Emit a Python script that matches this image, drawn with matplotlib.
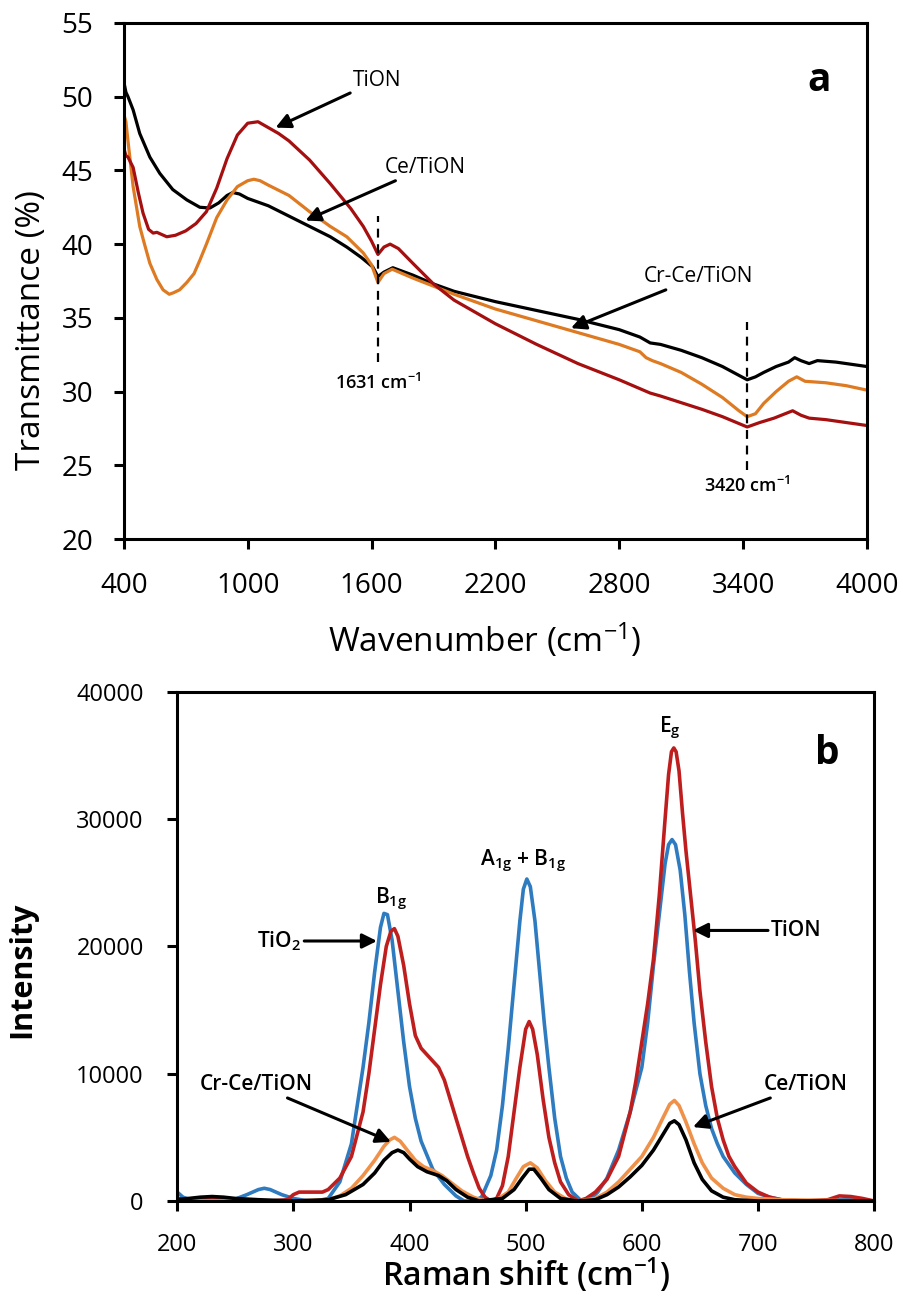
import matplotlib
matplotlib.use("Agg")
import matplotlib.pyplot as plt

plt.rcParams['font.family'] = ['Open Sans', 'DejaVu Sans']
plt.rcParams['mathtext.default'] = 'regular'

# ---- panel a: FTIR ----
ftir_black_x = [400, 410, 420, 445, 477, 526, 574, 637, 705, 768, 817, 860, 900, 928, 960, 1000, 1100, 1200,
                1300, 1400, 1480, 1550, 1606, 1631, 1660, 1703, 1800, 1900, 2000, 2200, 2400, 2600, 2800,
                2900, 2950, 3000, 3100, 3200, 3300, 3380, 3420, 3460, 3500, 3560, 3620, 3650, 3680, 3720,
                3760, 3850, 3950, 4000]
ftir_black_y = [51.0, 50.3, 50.0, 49.1, 47.5, 45.9, 44.8, 43.7, 43.0, 42.5, 42.45, 42.8, 43.3, 43.5, 43.4,
                43.1, 42.6, 41.9, 41.2, 40.5, 39.8, 39.1, 38.45, 37.8, 38.1, 38.4, 37.9, 37.3, 36.8, 36.1,
                35.5, 34.9, 34.2, 33.7, 33.3, 33.2, 32.8, 32.3, 31.7, 31.1, 30.8, 31.0, 31.3, 31.7, 32.0,
                32.3, 32.1, 31.9, 32.1, 32.0, 31.8, 31.7]

ftir_red_x = [400, 410, 420, 445, 470, 493, 520, 542, 560, 608, 650, 700, 750, 800, 850, 900, 950, 1000,
              1050, 1100, 1150, 1200, 1300, 1400, 1500, 1560, 1600, 1631, 1660, 1690, 1730, 1800, 1900,
              2000, 2200, 2400, 2600, 2800, 2950, 3000, 3200, 3300, 3420, 3480, 3550, 3640, 3680, 3720,
              3800, 3900, 4000]
ftir_red_y = [46.5, 46.0, 45.9, 45.2, 43.5, 42.1, 41.0, 40.75, 40.8, 40.5, 40.6, 40.9, 41.4, 42.2, 43.8,
              45.8, 47.4, 48.2, 48.3, 47.9, 47.5, 47.0, 45.7, 44.1, 42.4, 41.2, 40.2, 39.3, 39.8, 40.0,
              39.7, 38.7, 37.3, 36.2, 34.6, 33.2, 31.9, 30.8, 29.9, 29.7, 28.8, 28.3, 27.6, 27.9, 28.2,
              28.7, 28.4, 28.2, 28.1, 27.9, 27.7]

ftir_orange_x = [400, 410, 420, 445, 477, 500, 526, 560, 590, 620, 640, 670, 705, 740, 768, 800, 850, 900,
                 950, 1000, 1030, 1060, 1100, 1200, 1300, 1400, 1480, 1560, 1600, 1631, 1660, 1700, 1800,
                 2000, 2200, 2400, 2600, 2800, 2900, 2930, 2960, 3000, 3100, 3200, 3300, 3380, 3420, 3460,
                 3500, 3560, 3620, 3660, 3700, 3800, 3900, 4000]
ftir_orange_y = [48.8, 48.3, 47.0, 43.9, 41.2, 40.0, 38.7, 37.6, 36.9, 36.6, 36.7, 36.9, 37.4, 38.0, 38.9,
                 40.0, 41.8, 43.0, 43.9, 44.3, 44.4, 44.3, 44.0, 43.3, 42.2, 41.2, 40.5, 39.4, 38.6, 37.4,
                 38.0, 38.3, 37.7, 36.6, 35.6, 34.8, 34.0, 33.2, 32.7, 32.3, 32.1, 31.9, 31.3, 30.5, 29.6,
                 28.7, 28.3, 28.5, 29.2, 30.0, 30.7, 31.0, 30.7, 30.6, 30.4, 30.1]

# ---- panel b: Raman ----
raman_blue_x = [200, 205, 210, 220, 230, 240, 250, 260, 270, 275, 280, 290, 300, 310, 320, 330, 340, 350,
                360, 365, 370, 375, 378, 381, 385, 390, 395, 400, 405, 410, 420, 430, 440, 447, 455, 462,
                470, 475, 480, 485, 490, 495, 498, 501, 504, 508, 512, 516, 520, 525, 530, 535, 540, 548,
                555, 562, 570, 580, 590, 600, 605, 610, 615, 620, 623, 626, 629, 633, 637, 641, 645, 650,
                655, 660, 665, 670, 680, 690, 700, 710, 720, 740, 760, 780, 800]
raman_blue_y = [700, 300, 150, 200, 250, 200, 150, 500, 900, 1000, 900, 500, 200, 50, 0, 200, 1500, 4500,
                10500, 14000, 18000, 21500, 22600, 22500, 20500, 16500, 12500, 9000, 6500, 4700, 2500,
                1300, 400, 0, 0, 300, 2000, 4000, 7500, 12000, 17000, 22000, 24500, 25300, 24700, 22000,
                18000, 14000, 10500, 6500, 3500, 1800, 700, 0, 100, 700, 1800, 4000, 7000, 10500, 14000,
                18500, 22500, 26500, 28000, 28400, 28000, 26000, 22500, 18000, 14000, 10000, 7500, 5700,
                4500, 3500, 2200, 1300, 600, 300, 100, 0, 50, 150, 0]

raman_red_x = [200, 210, 220, 230, 240, 260, 280, 295, 300, 305, 315, 325, 330, 340, 350, 360, 365, 370,
               375, 380, 384, 387, 390, 395, 400, 405, 410, 415, 420, 425, 430, 435, 440, 445, 450, 455,
               460, 465, 470, 475, 480, 485, 490, 495, 500, 503, 506, 510, 515, 520, 525, 530, 537, 545,
               552, 560, 570, 580, 590, 595, 600, 605, 610, 615, 620, 623, 625.5, 627.5, 629.5, 632, 635,
               638, 642, 646, 650, 655, 660, 665, 670, 675, 680, 690, 700, 710, 720, 740, 760, 770, 780,
               790, 800]
raman_red_y = [200, 100, 150, 100, 100, 0, 0, 100, 500, 700, 700, 700, 900, 1800, 3500, 7000, 10000,
               13500, 17000, 20000, 21200, 21400, 20800, 18500, 15500, 13000, 12000, 11500, 11000, 10500,
               9500, 8000, 6500, 5000, 3500, 2200, 1000, 300, 0, 200, 1200, 3500, 7000, 10500, 13500,
               14100, 13500, 11500, 8000, 5000, 3000, 1500, 500, 0, 200, 700, 1700, 3500, 7000, 9500,
               12500, 15500, 19000, 24000, 30000, 33500, 35300, 35600, 35300, 33800, 30500, 27500, 24000,
               20500, 16500, 12500, 9000, 6500, 4800, 3500, 2700, 1400, 700, 300, 100, 0, 100, 400, 350,
               200, 0]

raman_orange_x = [200, 250, 300, 330, 340, 350, 360, 370, 378, 383, 387, 392, 398, 405, 412, 420, 428,
                  435, 445, 455, 465, 475, 485, 492, 498, 504, 510, 517, 525, 535, 545, 560, 570, 580,
                  590, 600, 610, 618, 624, 628, 632, 638, 645, 652, 660, 670, 680, 690, 700, 720, 800]
raman_orange_y = [0, 0, 0, 100, 400, 1000, 2000, 3200, 4300, 4800, 5000, 4700, 4000, 3200, 2700, 2400,
                  2000, 1500, 800, 300, 0, 100, 700, 1800, 2700, 3000, 2600, 1600, 700, 150, 0, 200, 700,
                  1500, 2500, 3500, 5000, 6500, 7600, 7900, 7500, 6200, 4500, 3000, 1800, 1000, 500, 300,
                  200, 100, 0]

raman_black_x = [200, 210, 220, 230, 240, 250, 270, 300, 330, 345, 360, 370, 378, 385, 390, 395, 400, 407,
                 415, 425, 432, 440, 450, 460, 480, 490, 497, 503, 507, 513, 520, 530, 545, 560, 570, 580,
                 590, 600, 610, 618, 624, 628, 632, 638, 645, 652, 660, 670, 680, 700, 800]
raman_black_y = [100, 200, 300, 350, 300, 200, 100, 0, 100, 500, 1300, 2200, 3200, 3800, 4000, 3800, 3300,
                 2700, 2300, 2000, 1600, 900, 300, 0, 200, 900, 1800, 2500, 2500, 1800, 900, 200, 0, 100,
                 500, 1100, 1900, 2800, 4000, 5200, 6100, 6300, 6000, 4800, 3000, 1700, 800, 300, 100, 0, 0]

c_black = "black"
c_red_a = "#A50F0F"
c_orange_a = "#DE7A22"
c_blue = "#2E7BC0"
c_red_b = "#BF1E1E"
c_orange_b = "#F0914A"

fig = plt.figure(figsize=(9.04, 13.1), dpi=100)
ax1 = fig.add_axes([0.137, 0.5885, 0.822, 0.394])
ax2 = fig.add_axes([0.196, 0.0832, 0.771, 0.3886])

for ax in (ax1, ax2):
    for s in ax.spines.values():
        s.set_linewidth(2.2)
    ax.tick_params(direction="out", length=7, width=2.2, top=False, right=False)

# panel a
ax1.plot(ftir_black_x, ftir_black_y, color=c_black, lw=2.3)
ax1.plot(ftir_orange_x, ftir_orange_y, color=c_orange_a, lw=2.3)
ax1.plot(ftir_red_x, ftir_red_y, color=c_red_a, lw=2.3)
ax1.set_xlim(400, 4000)
ax1.set_ylim(20, 55)
ax1.set_xticks(range(400, 4001, 600))
ax1.set_yticks(range(20, 56, 5))
ax1.tick_params(labelsize=20)
ax1.tick_params(axis="x", pad=17)
ax1.tick_params(axis="y", pad=15)
ax1.set_xlabel("Wavenumber (cm$^{-1}$)", fontsize=24, va="center")
ax1.set_ylabel("Transmittance (%)", fontsize=24, va="center")
ax1.xaxis.set_label_coords(0.486, -0.196)
ax1.yaxis.set_label_coords(-0.124, 0.405)

ax1.plot([1631, 1631], [32.0, 41.9], color="black", lw=1.6, ls=(0, (4, 3)))
ax1.plot([3420, 3420], [24.7, 34.7], color="black", lw=1.6, ls=(0, (4, 3)))
ax1.text(1631, 30.6, "1631 cm$^{-1}$", fontsize=13, fontweight="semibold", ha="center", va="center")
ax1.text(3420, 23.6, "3420 cm$^{-1}$", fontsize=13, fontweight="semibold", ha="center", va="center")

arrow = dict(arrowstyle="-|>", color="black", lw=2.2, mutation_scale=22, shrinkA=0, shrinkB=0)
ax1.annotate("TiON", xy=(1135, 47.9), xytext=(1510, 51.1), fontsize=15, ha="left", va="center",
             arrowprops=arrow)
ax1.annotate("Ce/TiON", xy=(1280, 41.6), xytext=(1665, 45.2), fontsize=15, ha="left", va="center",
             arrowprops=arrow)
ax1.annotate("Cr-Ce/TiON", xy=(2566, 34.3), xytext=(2920, 37.8), fontsize=15, ha="left", va="center",
             arrowprops=arrow)
ax1.text(3768, 51.1, "a", fontsize=28, fontweight="bold", ha="center", va="center")

# panel b
ax2.plot(raman_blue_x, raman_blue_y, color=c_blue, lw=2.6)
ax2.plot(raman_red_x, raman_red_y, color=c_red_b, lw=2.6)
ax2.plot(raman_orange_x, raman_orange_y, color=c_orange_b, lw=2.6)
ax2.plot(raman_black_x, raman_black_y, color=c_black, lw=2.6)
ax2.set_xlim(200, 800)
ax2.set_ylim(0, 40000)
ax2.set_xticks(range(200, 801, 100))
ax2.set_yticks(range(0, 40001, 10000))
ax2.tick_params(labelsize=17)
ax2.tick_params(axis="x", pad=16)
ax2.tick_params(axis="y", pad=17)
ax2.set_xlabel("Raman shift (cm$^{-1}$)", fontsize=23, fontweight="semibold", va="center")
ax2.set_ylabel("Intensity", fontsize=22, fontweight="bold", va="center")
ax2.xaxis.set_label_coords(0.5, -0.145)
ax2.yaxis.set_label_coords(-0.222, 0.454)

ax2.text(384, 23750, "B$_{1g}$", fontsize=15, fontweight="semibold", ha="center", va="center")
ax2.text(498, 26700, "A$_{1g}$ + B$_{1g}$", fontsize=15, fontweight="semibold", ha="center", va="center")
ax2.text(624, 37200, "E$_{g}$", fontsize=15, fontweight="semibold", ha="center", va="center")
ax2.text(760, 35200, "b", fontsize=28, fontweight="bold", ha="center", va="center")

ax2.annotate("TiO$_2$", xy=(372, 20430), xytext=(307, 20430), fontsize=15, fontweight="semibold",
             ha="right", va="center", arrowprops=arrow)
ax2.annotate("TiON", xy=(644, 21260), xytext=(711, 21260), fontsize=15, fontweight="semibold",
             ha="left", va="center", arrowprops=arrow)
ax2.annotate("Cr-Ce/TiON", xy=(384, 4650), xytext=(268, 9140), fontsize=15, fontweight="semibold",
             ha="center", va="center", arrowprops=arrow)
ax2.annotate("Ce/TiON", xy=(644, 5810), xytext=(741, 9140), fontsize=15, fontweight="semibold",
             ha="center", va="center", arrowprops=arrow)

fig.savefig("out.png", dpi=100)
